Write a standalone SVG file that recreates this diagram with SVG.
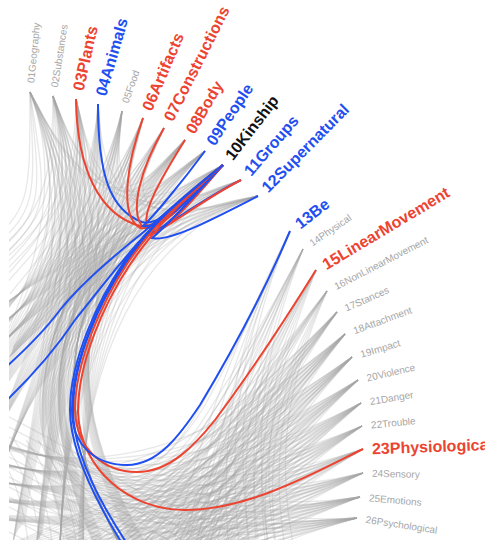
<svg xmlns="http://www.w3.org/2000/svg" xmlns:xlink="http://www.w3.org/1999/xlink" width="485" height="540" viewBox="0 0 485 540">
<style>
.gl{fill:none;stroke:#a6a6a6;stroke-opacity:0.26;stroke-width:1.3}
.cl{fill:none;stroke-width:2}
.red{stroke:#ec4431}
.blue{stroke:#1f4ff0}
text{font-family:"Liberation Sans",Arial,Helvetica,sans-serif}
.big{font-size:16px;font-weight:bold}
.sm{font-size:10px;fill:#a6a6a6}
.tr{fill:#ec4431}.tb{fill:#1f4ff0}.tk{fill:#111111}
</style>
<defs>
<clipPath id="clip"><rect x="9" y="0" width="476" height="540"/></clipPath>
<g id="A01"><path d="M30,92 C86,203 70,340 60,545"/><path d="M30,92 C86,203 60,290 0,345"/><path d="M30,92 C86,203 95,280 80,330 C68,380 70,450 120,545"/><path d="M30,92 C86,203 40,330 -20,470"/><path d="M30,92 C40,192 45,210 0,250"/></g>
<g id="A02"><path d="M53,96 C92,204 70,340 60,545"/><path d="M53,96 C92,204 60,290 0,345"/><path d="M53,96 C92,204 95,280 80,330 C68,380 70,450 120,545"/><path d="M53,96 C92,204 40,330 -20,470"/><path d="M53,96 C63,196 50,220 0,270"/></g>
<g id="A03"><path d="M76,99 C98,205 70,340 60,545"/><path d="M76,99 C98,205 60,290 0,345"/><path d="M76,99 C98,205 95,280 80,330 C68,380 70,450 120,545"/><path d="M76,99 C98,205 40,330 -20,470"/><path d="M76,99 C86,199 55,230 0,290"/></g>
<g id="A04"><path d="M98,104 C103,206 70,340 60,545"/><path d="M98,104 C103,206 60,290 0,345"/><path d="M98,104 C103,206 95,280 80,330 C68,380 70,450 120,545"/><path d="M98,104 C103,206 40,330 -20,470"/></g>
<g id="A05"><path d="M122,111 C109,208 70,340 60,545"/><path d="M122,111 C109,208 60,290 0,345"/><path d="M122,111 C109,208 95,280 80,330 C68,380 70,450 120,545"/><path d="M122,111 C109,208 40,330 -20,470"/></g>
<g id="A06"><path d="M143,118 C115,210 70,340 60,545"/><path d="M143,118 C115,210 60,290 0,345"/><path d="M143,118 C115,210 95,280 80,330 C68,380 70,450 120,545"/><path d="M143,118 C115,210 40,330 -20,470"/></g>
<g id="A07"><path d="M164,128 C120,212 70,340 60,545"/><path d="M164,128 C120,212 60,290 0,345"/><path d="M164,128 C120,212 95,280 80,330 C68,380 70,450 120,545"/><path d="M164,128 C120,212 40,330 -20,470"/></g>
<g id="A08"><path d="M185,140 C125,215 70,340 60,545"/><path d="M185,140 C125,215 60,290 0,345"/><path d="M185,140 C125,215 95,280 80,330 C68,380 70,450 120,545"/><path d="M185,140 C125,215 40,330 -20,470"/></g>
<g id="A09"><path d="M205,151 C130,218 70,340 60,545"/><path d="M205,151 C130,218 60,290 0,345"/><path d="M205,151 C130,218 95,280 80,330 C68,380 70,450 120,545"/><path d="M205,151 C130,218 40,330 -20,470"/></g>
<g id="A10"><path d="M223,165 C135,221 70,340 60,545"/><path d="M223,165 C135,221 60,290 0,345"/><path d="M223,165 C135,221 95,280 80,330 C68,380 70,450 120,545"/><path d="M223,165 C135,221 40,330 -20,470"/></g>
<g id="A11"><path d="M241,180 C139,225 70,340 60,545"/><path d="M241,180 C139,225 60,290 0,345"/><path d="M241,180 C139,225 95,280 80,330 C68,380 70,450 120,545"/><path d="M241,180 C139,225 40,330 -20,470"/></g>
<g id="A12"><path d="M258,196 C143,229 70,340 60,545"/><path d="M258,196 C143,229 60,290 0,345"/><path d="M258,196 C143,229 95,280 80,330 C68,380 70,450 120,545"/><path d="M258,196 C143,229 40,330 -20,470"/></g>
<g id="B13"><path d="M290,231 C240,330 200,430 170,560"/><path d="M290,231 C245,320 215,420 230,560"/></g>
<g id="B14"><path d="M303,249 C250,345 210,440 185,560"/><path d="M303,249 C260,340 235,430 250,560"/><path d="M303,249 C255,345 200,450 100,565"/></g>
<g id="B15"><path d="M316,270 C262,360 220,450 190,565"/><path d="M316,270 C265,355 225,440 130,560"/><path d="M316,270 C270,370 240,450 260,570"/></g>
<g id="B16"><path d="M327,291 C268,370 225,455 180,565"/><path d="M327,291 C270,370 200,470 60,560"/><path d="M327,291 C280,380 260,460 280,570"/></g>
<g id="B17"><path d="M337,312 C239,424 130,555 90,600"/><path d="M337,312 C239,424 150,510 -10,480"/><path d="M337,312 C239,424 180,560 170,620"/><path d="M337,312 C239,424 100,560 -20,600"/></g>
<g id="B18"><path d="M345,334 C244,436 130,555 90,600"/><path d="M345,334 C244,436 150,510 -10,480"/><path d="M345,334 C244,436 180,560 170,620"/><path d="M345,334 C244,436 100,560 -20,600"/></g>
<g id="B19"><path d="M352,357 C248,448 130,555 90,600"/><path d="M352,357 C248,448 150,510 -10,480"/><path d="M352,357 C248,448 180,560 170,620"/><path d="M352,357 C248,448 100,560 -20,600"/></g>
<g id="B20"><path d="M358,380 C251,461 130,555 90,600"/><path d="M358,380 C251,461 150,510 -10,480"/><path d="M358,380 C251,461 180,560 170,620"/><path d="M358,380 C251,461 100,560 -20,600"/></g>
<g id="B21"><path d="M361,403 C253,474 130,555 90,600"/><path d="M361,403 C253,474 150,510 -10,480"/><path d="M361,403 C253,474 180,560 170,620"/><path d="M361,403 C253,474 100,560 -20,600"/></g>
<g id="B22"><path d="M362,426 C253,486 130,555 90,600"/><path d="M362,426 C253,486 150,510 -10,480"/><path d="M362,426 C253,486 180,560 170,620"/><path d="M362,426 C253,486 100,560 -20,600"/></g>
<g id="B23"><path d="M363,449 C254,499 130,555 90,600"/><path d="M363,449 C254,499 150,510 -10,480"/><path d="M363,449 C254,499 180,560 170,620"/><path d="M363,449 C254,499 100,560 -20,600"/></g>
<g id="B24"><path d="M363,473 C254,512 130,555 90,600"/><path d="M363,473 C254,512 150,510 -10,480"/><path d="M363,473 C254,512 180,560 170,620"/><path d="M363,473 C254,512 100,560 -20,600"/></g>
<g id="B25"><path d="M360,497 C252,525 130,555 90,600"/><path d="M360,497 C252,525 150,510 -10,480"/><path d="M360,497 C252,525 180,560 170,620"/><path d="M360,497 C252,525 100,560 -20,600"/></g>
<g id="B26"><path d="M357,518 C250,537 130,555 90,600"/><path d="M357,518 C250,537 150,510 -10,480"/><path d="M357,518 C250,537 180,560 170,620"/><path d="M357,518 C250,537 100,560 -20,600"/></g>
<path id="D1" d="M-5,410 C60,442 150,495 240,560"/>
<path id="D2" d="M-5,445 C70,458 150,492 300,565"/>
<path id="D3" d="M30,560 C25,500 12,470 -10,440"/>
</defs>
<g id="links" clip-path="url(#clip)">
<g class="gl">
<use href="#A01" transform="rotate(-3 30 92)"/><use href="#A01"/><use href="#A01" transform="rotate(3 30 92)"/><use href="#A01" transform="rotate(6 30 92)"/>
<use href="#A02" transform="rotate(-3 53 96)"/><use href="#A02"/><use href="#A02" transform="rotate(3 53 96)"/><use href="#A02" transform="rotate(6 53 96)"/>
<use href="#A03" transform="rotate(-3 76 99)"/><use href="#A03"/><use href="#A03" transform="rotate(3 76 99)"/><use href="#A03" transform="rotate(6 76 99)"/>
<use href="#A04" transform="rotate(-3 98 104)"/><use href="#A04"/><use href="#A04" transform="rotate(3 98 104)"/><use href="#A04" transform="rotate(6 98 104)"/>
<use href="#A05" transform="rotate(-3 122 111)"/><use href="#A05"/><use href="#A05" transform="rotate(3 122 111)"/><use href="#A05" transform="rotate(6 122 111)"/>
<use href="#A06" transform="rotate(-3 143 118)"/><use href="#A06"/><use href="#A06" transform="rotate(3 143 118)"/><use href="#A06" transform="rotate(6 143 118)"/>
<use href="#A07" transform="rotate(-3 164 128)"/><use href="#A07"/><use href="#A07" transform="rotate(3 164 128)"/><use href="#A07" transform="rotate(6 164 128)"/>
<use href="#A08" transform="rotate(-3 185 140)"/><use href="#A08"/><use href="#A08" transform="rotate(3 185 140)"/><use href="#A08" transform="rotate(6 185 140)"/>
<use href="#A09" transform="rotate(-3 205 151)"/><use href="#A09"/><use href="#A09" transform="rotate(3 205 151)"/><use href="#A09" transform="rotate(6 205 151)"/>
<use href="#A10" transform="rotate(-3 223 165)"/><use href="#A10"/><use href="#A10" transform="rotate(3 223 165)"/><use href="#A10" transform="rotate(6 223 165)"/>
<use href="#A11" transform="rotate(-3 241 180)"/><use href="#A11"/><use href="#A11" transform="rotate(3 241 180)"/><use href="#A11" transform="rotate(6 241 180)"/>
<use href="#A12" transform="rotate(-3 258 196)"/><use href="#A12"/><use href="#A12" transform="rotate(3 258 196)"/><use href="#A12" transform="rotate(6 258 196)"/>
<path d="M30,92 C86,203 125,215 185,140"/><path d="M53,96 C92,204 143,229 258,196"/><path d="M76,99 C98,205 135,221 223,165"/>
<path d="M122,111 C109,208 139,225 241,180"/><path d="M143,118 C115,210 130,218 205,151"/><path d="M98,104 C103,206 143,229 258,196"/>
<path d="M30,92 C86,203 109,208 122,111"/><path d="M164,128 C120,212 143,229 258,196"/><path d="M53,96 C92,204 130,218 205,151"/>
<path d="M76,99 C98,205 115,210 143,118"/><path d="M30,92 C86,203 139,225 241,180"/><path d="M122,111 C109,208 125,215 185,140"/>
<use href="#B13" transform="rotate(-4 290 231)"/><use href="#B13" transform="rotate(-2 290 231)"/><use href="#B13"/>
<use href="#B14" transform="rotate(-4 303 249)"/><use href="#B14" transform="rotate(-2 303 249)"/><use href="#B14"/>
<use href="#B15" transform="rotate(-4 316 270)"/><use href="#B15" transform="rotate(-2 316 270)"/><use href="#B15"/>
<use href="#B16" transform="rotate(-4 327 291)"/><use href="#B16" transform="rotate(-2 327 291)"/><use href="#B16"/><use href="#B16" transform="rotate(2 327 291)"/>
<use href="#B17" transform="rotate(-6 337 312)"/><use href="#B17" transform="rotate(-3 337 312)"/><use href="#B17"/><use href="#B17" transform="rotate(3 337 312)"/>
<use href="#B18" transform="rotate(-6 345 334)"/><use href="#B18" transform="rotate(-3 345 334)"/><use href="#B18"/><use href="#B18" transform="rotate(3 345 334)"/><use href="#B18" transform="rotate(6 345 334)"/>
<use href="#B19" transform="rotate(-6 352 357)"/><use href="#B19" transform="rotate(-3 352 357)"/><use href="#B19"/><use href="#B19" transform="rotate(3 352 357)"/><use href="#B19" transform="rotate(6 352 357)"/>
<use href="#B20" transform="rotate(-6 358 380)"/><use href="#B20" transform="rotate(-3 358 380)"/><use href="#B20"/><use href="#B20" transform="rotate(3 358 380)"/><use href="#B20" transform="rotate(6 358 380)"/>
<use href="#B21" transform="rotate(-6 361 403)"/><use href="#B21" transform="rotate(-3 361 403)"/><use href="#B21"/><use href="#B21" transform="rotate(3 361 403)"/><use href="#B21" transform="rotate(6 361 403)"/>
<use href="#B22" transform="rotate(-6 362 426)"/><use href="#B22" transform="rotate(-3 362 426)"/><use href="#B22"/><use href="#B22" transform="rotate(3 362 426)"/><use href="#B22" transform="rotate(6 362 426)"/>
<use href="#B23" transform="rotate(-6 363 449)"/><use href="#B23" transform="rotate(-3 363 449)"/><use href="#B23"/><use href="#B23" transform="rotate(3 363 449)"/><use href="#B23" transform="rotate(6 363 449)"/>
<use href="#B24" transform="rotate(-6 363 473)"/><use href="#B24" transform="rotate(-3 363 473)"/><use href="#B24"/><use href="#B24" transform="rotate(3 363 473)"/><use href="#B24" transform="rotate(6 363 473)"/>
<use href="#B25" transform="rotate(-6 360 497)"/><use href="#B25" transform="rotate(-3 360 497)"/><use href="#B25"/><use href="#B25" transform="rotate(3 360 497)"/><use href="#B25" transform="rotate(6 360 497)"/>
<use href="#B26" transform="rotate(-6 357 518)"/><use href="#B26" transform="rotate(-3 357 518)"/><use href="#B26"/><use href="#B26" transform="rotate(3 357 518)"/><use href="#B26" transform="rotate(6 357 518)"/>
<path d="M290,231 C265,290 232,355 205,405 C185,438 160,469 128,469 C96,469 69,448 69,410 C69,360 94,300 121,258 C127,248 133,238 140,230"/>
<path d="M290,231 C263,292 228,357 200,408 C180,442 157,473 126,473 C92,473 65,450 65,410 C65,358 91,298 117,258 C123,248 129,238 136,230"/>
<path d="M303,249 C272,308 236,368 208,412 C188,445 162,477 128,477 C90,477 62,452 62,410 C62,356 89,296 114,256 C120,246 126,236 132,228"/>
<path d="M303,249 C270,310 240,372 212,414 C190,447 165,480 130,480 C88,480 60,454 60,408 C60,354 86,296 112,258 C118,248 124,238 130,230"/>
<path d="M316,270 C285,320 247,383 217,422 C194,452 166,483 130,483 C90,483 59,455 59,410 C59,355 87,295 112,255 C118,245 124,235 130,226"/>
<path d="M316,270 C282,325 250,390 222,426 C198,456 170,486 132,486 C88,486 57,458 57,408 C57,352 85,294 110,256 C116,246 122,236 128,228"/>
<path d="M327,291 C292,340 252,400 224,432 C202,460 172,490 133,490 C88,490 55,460 55,410 C55,352 85,294 110,254 C116,244 122,234 128,224"/>
<path d="M337,312 C300,360 262,415 232,442 C207,467 176,496 135,496 C86,496 53,463 53,410 C53,350 83,293 108,253 C114,243 120,233 126,222"/>
<path d="M345,334 C305,375 266,425 236,450 C210,472 178,500 136,500 C85,500 51,465 51,410 C51,348 82,292 107,252 C113,242 119,232 125,220"/>
<path d="M352,357 C310,395 270,440 240,458 C212,478 180,504 138,504 C84,504 50,467 50,410 C50,348 81,292 106,252"/>
<path d="M358,380 C312,412 272,455 242,470 C214,486 182,508 140,508 C82,508 48,470 48,410 C48,346 80,290 104,250"/>
<path d="M361,403 C320,440 255,498 190,505 C130,510 84,472 82,412 C80,362 102,302 126,264 C132,254 138,244 144,236"/>
<path d="M363,449 C320,470 250,508 185,510 C128,510 80,470 79,412 C78,360 100,300 124,262 C130,252 136,242 142,234"/>
<path d="M363,473 C310,490 250,515 185,518 C120,520 66,480 64,410 C62,350 92,295 118,256"/>
<path d="M360,497 C300,505 240,522 180,524 C120,526 48,482 46,410 C44,345 76,290 102,248"/>
<path d="M357,518 C300,520 240,530 175,532 C110,534 42,490 40,410 C38,340 74,288 100,246"/>
<use href="#D1"/><use href="#D1" transform="translate(0,10)"/><use href="#D1" transform="translate(0,20)"/><use href="#D1" transform="translate(0,30)"/><use href="#D1" transform="translate(0,40)"/><use href="#D1" transform="translate(0,50)"/><use href="#D1" transform="translate(0,60)"/><use href="#D1" transform="translate(0,70)"/><use href="#D1" transform="translate(0,80)"/><use href="#D1" transform="translate(0,90)"/><use href="#D1" transform="translate(0,100)"/><use href="#D1" transform="translate(0,115)"/><use href="#D1" transform="translate(0,130)"/>
<use href="#D2"/><use href="#D2" transform="translate(0,18)"/><use href="#D2" transform="translate(0,36)"/><use href="#D2" transform="translate(0,54)"/><use href="#D2" transform="translate(0,72)"/>
<use href="#D3"/><use href="#D3" transform="translate(12,0)"/><use href="#D3" transform="translate(24,0)"/><use href="#D3" transform="translate(36,0)"/><use href="#D3" transform="translate(48,0)"/>
</g>
<g class="cl">
<path class="red" d="M76,99 C77,170 100,215 140,226 C160,230 198,188 223,165"/>
<path class="blue" d="M98,104 C98,175 110,210 142,222 C162,228 198,188 223,165"/>
<path class="red" d="M143,118 C128,160 118,215 140,228 C162,232 198,188 223,165"/>
<path class="red" d="M164,128 C140,170 130,210 142,226 C163,231 198,188 223,165"/>
<path class="red" d="M185,140 C160,180 140,215 148,228 C163,230 198,188 223,165"/>
<path class="blue" d="M205,151 C180,185 152,218 143,226 C160,230 200,190 223,165"/>
<path class="blue" d="M241,180 C200,200 160,232 148,234 C165,232 200,190 223,165"/>
<path class="red" d="M241,180 C200,201 161,233 149,235 C166,233 201,191 223,165"/>
<path class="blue" d="M258,196 C215,218 170,242 152,238 C162,230 200,190 223,165"/>
<path class="blue" d="M223,165 C190,190 160,218 140,235 C115,255 80,285 60,310 C45,330 25,350 5,368"/>
<path class="blue" d="M223,165 C190,190 162,218 148,232 C120,262 95,295 75,320 C55,350 30,378 5,402"/>
<path class="blue" d="M223,165 C180,200 150,225 124,262 C98,300 70,360 70,410 C70,450 95,500 123,545"/>
<path class="blue" d="M223,165 C180,200 151,226 126,263 C100,301 73,360 73,410 C73,450 98,500 128,545"/>
<path class="red" d="M223,165 C182,200 154,229 129,266 C104,304 78,362 78,412 C80,470 130,510 185,510 C250,510 320,470 363,449"/>
<path class="red" d="M223,165 C180,200 152,227 127,264 C102,302 75,362 75,410 C76,450 105,472 137,472 C170,472 195,445 215,420 C245,380 285,320 316,270"/>
<path class="blue" d="M223,165 C180,200 150,225 125,262 C100,300 72,360 72,410 C72,445 95,465 127,465 C158,465 180,435 200,405 C230,355 265,290 290,231"/>
</g>
</g>
<g id="n01"><text class="sm" transform="translate(30.8,83) rotate(-84.6)" dy="0.35em">01Geography</text></g>
<g id="n02"><text class="sm" transform="translate(54.4,87.1) rotate(-81)" dy="0.35em">02Substances</text></g>
<g id="n03"><text class="big tr" transform="translate(78,90.2) rotate(-77.4)" dy="0.35em">03Plants</text></g>
<g id="n04"><text class="big tb" transform="translate(100.5,95.4) rotate(-73.9)" dy="0.35em">04Animals</text></g>
<g id="n05"><text class="sm" transform="translate(125,102.5) rotate(-70.3)" dy="0.35em">05Food</text></g>
<g id="n06"><text class="big tr" transform="translate(146.5,109.7) rotate(-66.8)" dy="0.35em">06Artifacts</text></g>
<g id="n07"><text class="big tr" transform="translate(168.1,120) rotate(-63.2)" dy="0.35em">07Constructions</text></g>
<g id="n08"><text class="big tr" transform="translate(189.6,132.2) rotate(-59.6)" dy="0.35em">08Body</text></g>
<g id="n09"><text class="big tb" transform="translate(210,143.5) rotate(-56.1)" dy="0.35em">09People</text></g>
<g id="n10"><text class="big tk" transform="translate(228.5,157.9) rotate(-52.5)" dy="0.35em">10Kinship</text></g>
<g id="n11"><text class="big tb" transform="translate(246.9,173.2) rotate(-49)" dy="0.35em">11Groups</text></g>
<g id="n12"><text class="big tb" transform="translate(264.3,189.6) rotate(-45.4)" dy="0.35em">12Supernatural</text></g>
<g id="n13"><text class="big tb" transform="translate(297.1,225.4) rotate(-38.1)" dy="0.35em">13Be</text></g>
<g id="n14"><text class="sm" transform="translate(310.4,243.9) rotate(-34.5)" dy="0.35em">14Physical</text></g>
<g id="n15"><text class="big tr" transform="translate(323.7,265.4) rotate(-30.9)" dy="0.35em">15LinearMovement</text></g>
<g id="n16"><text class="sm" transform="translate(335,286.9) rotate(-27.3)" dy="0.35em">16NonLinearMovement</text></g>
<g id="n17"><text class="sm" transform="translate(345.2,308.4) rotate(-23.7)" dy="0.35em">17Stances</text></g>
<g id="n18"><text class="sm" transform="translate(353.5,330.9) rotate(-20.1)" dy="0.35em">18Attachment</text></g>
<g id="n19"><text class="sm" transform="translate(360.6,354.4) rotate(-16.5)" dy="0.35em">19Impact</text></g>
<g id="n20"><text class="sm" transform="translate(366.8,378) rotate(-12.9)" dy="0.35em">20Violence</text></g>
<g id="n21"><text class="sm" transform="translate(369.9,401.5) rotate(-9.3)" dy="0.35em">21Danger</text></g>
<g id="n22"><text class="sm" transform="translate(371,425.1) rotate(-5.7)" dy="0.35em">22Trouble</text></g>
<g id="n23"><text class="big tr" transform="translate(372,448.7) rotate(-2.1)" dy="0.35em">23Physiological</text></g>
<g id="n24"><text class="sm" transform="translate(372,473.2) rotate(1.5)" dy="0.35em">24Sensory</text></g>
<g id="n25"><text class="sm" transform="translate(369,497.8) rotate(5.1)" dy="0.35em">25Emotions</text></g>
<g id="n26"><text class="sm" transform="translate(365.9,519.4) rotate(8.7)" dy="0.35em">26Psychological</text></g>
</svg>
